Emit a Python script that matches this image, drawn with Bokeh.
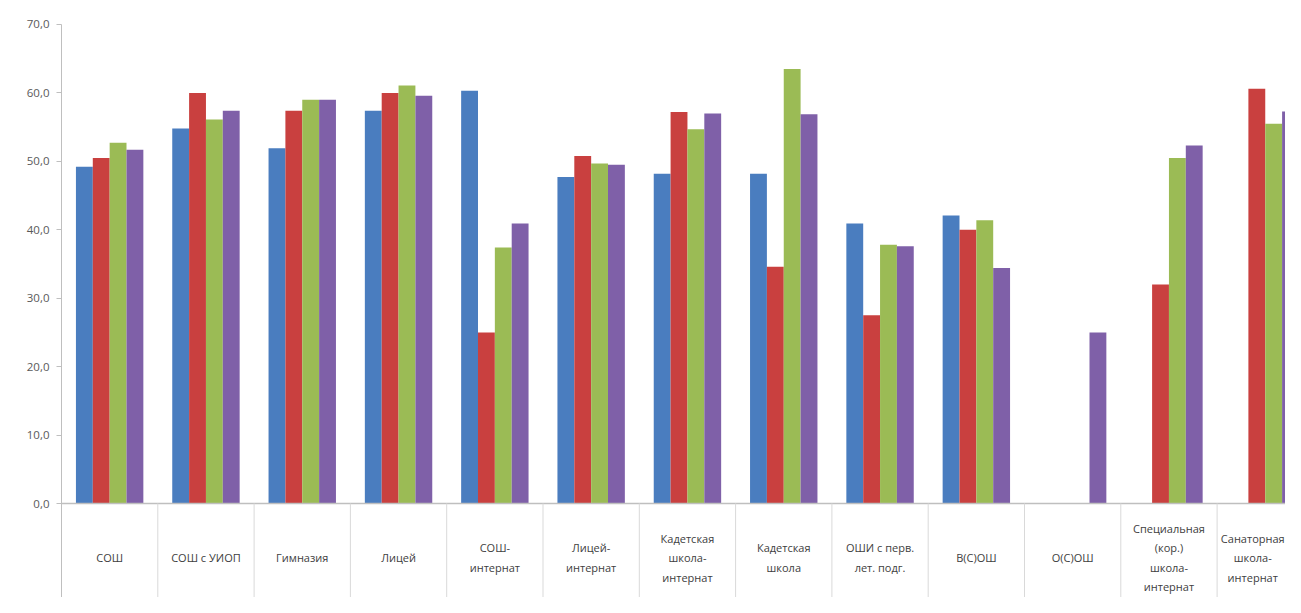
from bokeh.plotting import figure
from bokeh.models import ColumnDataSource, FixedTicker, Range1d
from bokeh.transform import dodge
from bokeh.core.properties import value
from bokeh.embed import file_html
from bokeh.resources import INLINE

categories = ["СОШ", "СОШ с УИОП", "Гимназия", "Лицей", "СОШ-\nинтернат",
              "Лицей-\nинтернат", "Кадетская\nшкола-\nинтернат", "Кадетская\nшкола",
              "ОШИ с перв.\nлет. подг.", "В(С)ОШ", "О(С)ОШ",
              "Специальная\n(кор.)\nшкола-\nинтернат", "Санаторная\nшкола-\nинтернат"]

series_blue = [49.2, 54.8, 51.9, 57.4, 60.3, 47.7, 48.2, 48.2, 40.9, 42.1, None, None, None]
series_red = [50.5, 60.0, 57.4, 60.0, 25.0, 50.8, 57.2, 34.6, 27.5, 40.0, None, 32.0, 60.6]
series_green = [52.7, 56.1, 59.0, 61.1, 37.4, 49.7, 54.7, 63.5, 37.8, 41.4, None, 50.5, 55.5]
series_purple = [51.7, 57.4, 59.0, 59.6, 40.9, 49.5, 57.0, 56.9, 37.6, 34.4, 25.0, 52.3, 57.3]

y_ticks = [0, 10, 20, 30, 40, 50, 60, 70]

colors = ["#4A7DBF", "#C9403F", "#9BBB55", "#7F60A8"]
all_series = [series_blue, series_red, series_green, series_purple]

n = len(categories)
px_per_unit = 6.843
fig_w, fig_h = 1285, 597
left_border = 61
zero_px = 503
y_end = zero_px / px_per_unit
y_start = y_end - fig_h / px_per_unit
cat_px = 96.3
x_end = (fig_w - left_border) / cat_px

p = figure(width=fig_w, height=fig_h, output_backend="svg", toolbar_location=None,
           x_range=Range1d(0, x_end), y_range=Range1d(y_start, y_end),
           min_border_left=left_border, min_border_right=0, min_border_top=0,
           min_border_bottom=0, tools="")
p.outline_line_color = None
p.xgrid.visible = False
p.ygrid.visible = False
p.xaxis.visible = False
p.background_fill_color = "white"
p.border_fill_color = "white"

bw = 0.175
offsets = [-1.5 * bw, -0.5 * bw, 0.5 * bw, 1.5 * bw]
for vals, col, off in zip(all_series, colors, offsets):
    xs = [i + 0.5 for i, v in enumerate(vals) if v is not None]
    tops = [v for v in vals if v is not None]
    src = ColumnDataSource(dict(x=xs, top=tops))
    p.vbar(x=dodge("x", off, range=p.x_range), top="top", bottom=0, width=bw,
           source=src, fill_color=col, line_color=None)

# zero line and category separators
p.segment(x0=[0], y0=[0], x1=[x_end], y1=[0], line_color="#BFBFBF", line_width=1.5)
sep_x = list(range(1, n + 1))
p.segment(x0=sep_x, y0=[0] * len(sep_x), x1=sep_x, y1=[y_start] * len(sep_x),
          line_color="#D9D9D9", line_width=1)

# category labels (last one nudged so it stays inside the canvas)
lab_x = [min(i + 0.5, x_end - 0.34) for i in range(n)]
lab_src = ColumnDataSource(dict(x=lab_x, y=[-7.9] * n, t=categories))
p.text(x="x", y="y", text="t", source=lab_src, text_align="center",
       text_baseline="middle", text_font=value("Open Sans"), text_font_size="11px",
       text_color="#404040", text_line_height=1.3)

ya = p.yaxis[0]
ya.ticker = FixedTicker(ticks=y_ticks)
ya.major_label_overrides = {t: f"{t},0" for t in y_ticks}
ya.bounds = (y_start, 70)
ya.axis_line_color = "#BFBFBF"
ya.major_tick_line_color = "#BFBFBF"
ya.major_tick_out = 5
ya.major_tick_in = 0
ya.minor_tick_line_color = None
ya.major_label_standoff = 7
ya.major_label_text_font = "Open Sans"
ya.major_label_text_font_size = "11.5px"
ya.major_label_text_color = "#595959"

open("out.html", "w").write(file_html(p, INLINE))
